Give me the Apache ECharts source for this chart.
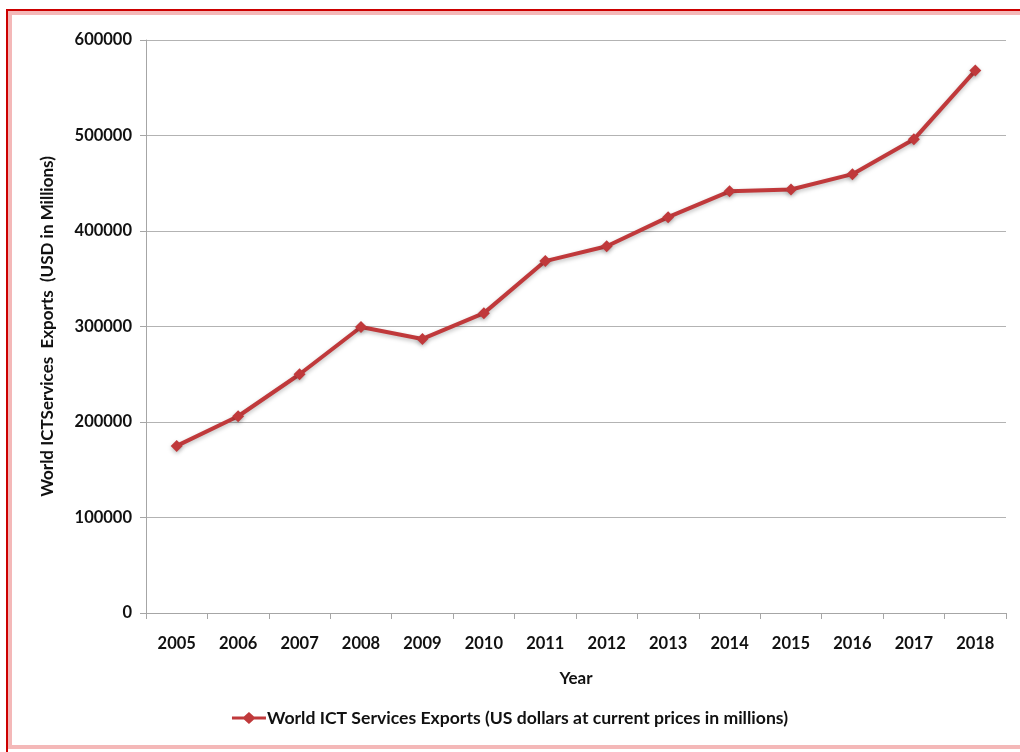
<!DOCTYPE html>
<html>
<head>
<meta charset="utf-8">
<script src="https://cdn.jsdelivr.net/npm/echarts@6/dist/echarts.min.js"></script>
<style>
  html, body { margin: 0; padding: 0; background: #ffffff; }
  #chart { width: 1020px; height: 752px; }
</style>
</head>
<body>
<div id="chart"></div>
<script>
// Years on the category axis
const years = ['2005', '2006', '2007', '2008', '2009', '2010', '2011',
               '2012', '2013', '2014', '2015', '2016', '2017', '2018'];
// World ICT services exports, US dollars at current prices (millions)
const ictExports = [175000, 206000, 250000, 299500, 287000, 314000, 368500,
                    384000, 414500, 441500, 443500, 459500, 496000, 568000];
// Value axis ticks
const yTicks = [0, 100000, 200000, 300000, 400000, 500000, 600000];

const seriesName = 'World ICT Services Exports (US dollars at current prices in millions)';
const font = 'Lato, "Open Sans", sans-serif';
const red = '#c0393b';
const ink = '#111111';

const chart = echarts.init(document.getElementById('chart'), null, { renderer: 'canvas' });

chart.setOption({
  animation: false,
  backgroundColor: '#ffffff',
  graphic: [
    // frame glow
    { type: 'rect', shape: { x: 10, y: 13, width: 1030, height: 734 },
      style: { fill: 'none', stroke: '#f4b8b8', lineWidth: 4 }, z: 0 },
    // frame line
    { type: 'polyline', shape: { points: [[7, 752], [7, 10], [1020, 10]] },
      style: { fill: 'none', stroke: '#cc0000', lineWidth: 2 }, z: 1 }
  ],
  grid: { left: 146, top: 40, right: 14, bottom: 139 },
  legend: {
    bottom: 20,
    left: 'center',
    itemWidth: 34,
    itemHeight: 12,
    itemGap: 2,
    textStyle: { fontFamily: font, fontWeight: 'bold', fontSize: 17.6, color: ink, padding: [0, 0, 0, -4] },
    data: [{ name: seriesName, icon: 'path://M0,4.6 L12,4.6 L17,0 L22,4.6 L34,4.6 L34,7.4 L22,7.4 L17,12 L12,7.4 L0,7.4 Z' }]
  },
  xAxis: {
    type: 'category',
    data: years,
    boundaryGap: true,
    name: 'Year',
    nameLocation: 'middle',
    nameGap: 57,
    nameTextStyle: { fontFamily: font, fontWeight: 'bold', fontSize: 17, color: ink },
    axisLine: { lineStyle: { color: '#a6a6a6', width: 1 } },
    axisTick: { show: true, alignWithLabel: false, length: 6, lineStyle: { color: '#a6a6a6' } },
    axisLabel: { margin: 22, fontFamily: font, fontWeight: 'bold', fontSize: 16.5, color: ink }
  },
  yAxis: {
    type: 'value',
    min: yTicks[0],
    max: yTicks[yTicks.length - 1],
    interval: 100000,
    name: 'World ICTServices  Exports  (USD in Millions)',
    nameLocation: 'middle',
    nameGap: 90,
    nameTextStyle: { fontFamily: font, fontWeight: 'bold', fontSize: 17, color: ink },
    axisLine: { show: true, lineStyle: { color: '#a6a6a6', width: 1 } },
    axisTick: { show: true, length: 6, lineStyle: { color: '#a6a6a6' } },
    axisLabel: { margin: 14, fontFamily: font, fontWeight: 'bold', fontSize: 16.5, color: ink,
                 formatter: v => String(v) },
    splitLine: { show: true, lineStyle: { color: '#b3b3b3', width: 1 } }
  },
  series: [{
    name: seriesName,
    type: 'line',
    data: ictExports,
    symbol: 'diamond',
    symbolSize: 12,
    lineStyle: { color: red, width: 4, shadowColor: 'rgba(0,0,0,0.25)', shadowBlur: 4, shadowOffsetY: 2 },
    itemStyle: { color: red, shadowColor: 'rgba(0,0,0,0.25)', shadowBlur: 4, shadowOffsetY: 2 }
  }]
});
</script>
</body>
</html>
